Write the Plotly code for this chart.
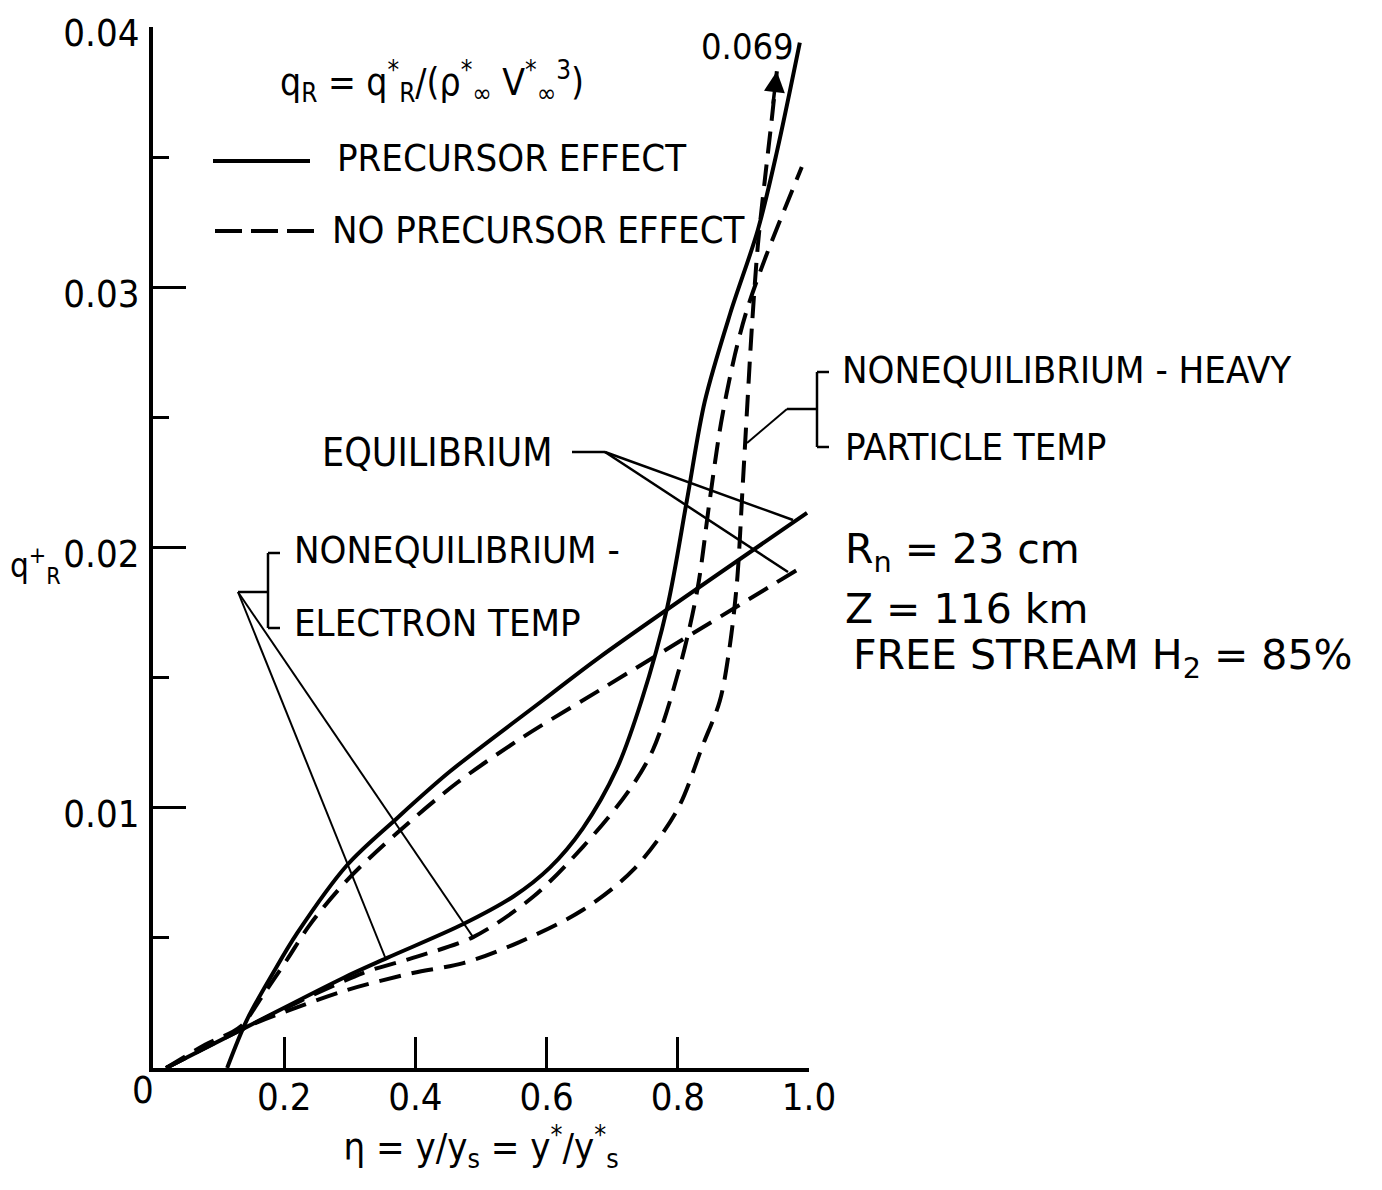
import plotly.graph_objects as go

# ---------------- data (eta, q_R+) ----------------
# Equilibrium, precursor effect (solid)
eq_pre_x = [0.113, 0.143, 0.183, 0.220, 0.296, 0.372, 0.453, 0.595, 0.681, 0.997]
eq_pre_q = [0.0, 0.00184, 0.00365, 0.00519, 0.0078, 0.00960, 0.01140, 0.01414, 0.01579, 0.02133]

# Equilibrium, no precursor effect (dashed)
eq_nop_x = [0.02, 0.08, 0.133, 0.165, 0.204, 0.239, 0.296, 0.372, 0.463, 0.560, 0.681, 0.982]
eq_nop_q = [0.0, 0.0009, 0.00158, 0.0027, 0.00415, 0.00550, 0.00722, 0.00903, 0.01095, 0.01265, 0.01452, 0.01914]

# Nonequilibrium - electron temp, precursor effect (solid)
ne_pre_x = [0.02, 0.143, 0.290, 0.357, 0.473, 0.550, 0.605, 0.655, 0.707, 0.745, 0.784, 0.814,
            0.841, 0.880, 0.922, 0.951, 0.986]
ne_pre_q = [0.0, 0.00158, 0.00346, 0.00423, 0.00553, 0.00660, 0.00770, 0.00920, 0.01150, 0.01414,
            0.01771, 0.02183, 0.02560, 0.02900, 0.03220, 0.03520, 0.03940]

# Nonequilibrium - electron temp, no precursor effect (dashed)
ne_nop_x = [0.02, 0.143, 0.320, 0.396, 0.488, 0.579, 0.655, 0.723, 0.762, 0.803, 0.830, 0.848,
            0.866, 0.887, 0.905, 0.933, 0.989]
ne_nop_q = [0.0, 0.00158, 0.00365, 0.00423, 0.00503, 0.00657, 0.00849, 0.01057, 0.01222, 0.01541,
            0.01840, 0.02170, 0.02480, 0.02740, 0.02910, 0.03110, 0.03462]

# Nonequilibrium - heavy particle temp, no precursor effect (dashed), goes on to 0.069
nh_nop_x = [0.02, 0.143, 0.209, 0.296, 0.396, 0.473, 0.555, 0.655, 0.732, 0.799, 0.838, 0.864,
            0.878, 0.890, 0.899, 0.906, 0.913, 0.922, 0.933, 0.943, 0.951]
nh_nop_q = [0.0, 0.00158, 0.00223, 0.0030, 0.00365, 0.00403, 0.0048, 0.00607, 0.00761, 0.00991,
            0.0124, 0.0141, 0.0160, 0.0186, 0.0224, 0.0255, 0.0285, 0.0316, 0.0342, 0.0364, 0.0383]

x_tickvals = [0.2, 0.4, 0.6, 0.8, 1.0]
x_ticktext = ["0.2", "0.4", "0.6", "0.8", "1.0"]
y_tickvals = [0.01, 0.02, 0.03, 0.04]
y_ticktext = ["0.01", "0.02", "0.03", "0.04"]

# ---------------- layout geometry ----------------
W, H = 1382, 1190
OFF = 8                      # page body margin
SL, ST = 153, 27             # plot area left / top on screen
PW, PH = 656, 1041           # plot area size
L, T = SL - OFF, ST - OFF
R = W - L - PW
B = H - T - PH


def px(x):
    return (x - SL) / PW


def py(y):
    return (ST + PH - y) / PH


COND = "Liberation Sans Narrow, DejaVu Sans Condensed, Arial Narrow, sans-serif"
WIDE = "DejaVu Sans, Verdana, sans-serif"
INK = "black"
DASH = "22px,11px"

fig = go.Figure()

series = [
    (eq_pre_x, eq_pre_q, "solid"),
    (eq_nop_x, eq_nop_q, DASH),
    (ne_pre_x, ne_pre_q, "solid"),
    (ne_nop_x, ne_nop_q, DASH),
    (nh_nop_x, nh_nop_q, DASH),
]
for xs, qs, dash in series:
    fig.add_trace(go.Scatter(
        x=xs, y=qs, mode="lines",
        line=dict(color=INK, width=4, dash=dash, shape="spline", smoothing=0.9),
        showlegend=False, hoverinfo="skip", cliponaxis=False,
    ))

shapes = []


def seg(x0, y0, x1, y1, w=2.5, dash="solid"):
    shapes.append(dict(type="line", xref="paper", yref="paper",
                       x0=px(x0), y0=py(y0), x1=px(x1), y1=py(y1),
                       line=dict(color=INK, width=w, dash=dash)))


# legend samples
seg(213, 161, 310, 161, w=4)
seg(215, 231, 315, 231, w=4, dash="27px,9px")

# EQUILIBRIUM leader
seg(572, 452, 605, 452)
seg(605, 452, 793, 520)
seg(605, 452, 788, 572)

# NONEQUILIBRIUM - ELECTRON TEMP bracket and leaders
seg(268, 553, 268, 628)
seg(268, 553, 280, 553)
seg(268, 628, 280, 628)
seg(238, 592, 268, 592)
seg(238, 592, 385, 957, w=2)
seg(238, 592, 473, 937, w=2)

# NONEQUILIBRIUM - HEAVY PARTICLE TEMP bracket and leader
seg(817, 372, 817, 447)
seg(817, 372, 829, 372)
seg(817, 447, 829, 447)
seg(787, 409, 817, 409)
seg(787, 409, 747, 443, w=2)

annotations = []


def txt(text, x, y, size=36, family=COND, xanchor="left", yanchor="middle"):
    annotations.append(dict(text=text, xref="paper", yref="paper", x=px(x), y=py(y),
                            xanchor=xanchor, yanchor=yanchor, showarrow=False,
                            font=dict(family=family, size=size, color=INK)))


txt("q<sub>R</sub> = q<sup>*</sup><sub>R</sub>/(ρ<sup>*</sup><sub>∞</sub> V<sup>*</sup><sub>∞</sub><sup>3</sup>)", 278, 82, size=37)
txt("PRECURSOR EFFECT", 335, 158, size=38)
txt("NO PRECURSOR EFFECT", 330, 230, size=38)
txt("EQUILIBRIUM", 320, 452, size=39)
txt("NONEQUILIBRIUM -", 292, 550, size=38)
txt("ELECTRON TEMP", 292, 623, size=38)
txt("NONEQUILIBRIUM - HEAVY", 840, 370, size=38)
txt("PARTICLE TEMP", 843, 447, size=38)
txt("R<sub>n</sub> = 23 cm", 843, 552, size=41, family=WIDE)
txt("Z = 116 km", 843, 609, size=41, family=WIDE)
txt("FREE STREAM H<sub>2</sub> = 85%", 851, 658, size=41, family=WIDE)
txt("0.069", 747, 46, size=36, xanchor="center")
txt("0", 143, 1090, size=38, xanchor="center")
txt("q<sup>+</sup><sub>R</sub>", 8, 565, size=33, xanchor="left")

# arrow at the end of the heavy-particle curve (value continues to 0.069)
annotations.append(dict(
    x=nh_nop_x[-1], y=nh_nop_q[-1], xref="x", yref="y",
    ax=-4, ay=34, axref="pixel", ayref="pixel",
    showarrow=True, arrowhead=2, arrowsize=1.2, arrowwidth=3.5, arrowcolor=INK, text="",
))

fig.update_layout(
    width=W, height=H,
    margin=dict(l=L, r=R, t=T, b=B, autoexpand=False),
    paper_bgcolor="white", plot_bgcolor="white",
    font=dict(family=COND, size=38, color=INK),
    shapes=shapes, annotations=annotations,
    showlegend=False,
)

fig.update_xaxes(
    range=[0, 1.0], showgrid=False, zeroline=False,
    showline=True, linecolor=INK, linewidth=4,
    ticks="inside", ticklen=31, tickwidth=3, tickcolor=INK,
    tickvals=x_tickvals, ticktext=x_ticktext, ticklabelstandoff=-8,
    ticklabeloverflow="allow",
    tickfont=dict(family=COND, size=38, color=INK),
    title=dict(text="η = y/y<sub>s</sub> = y<sup>*</sup>/y<sup>*</sup><sub>s</sub>",
               font=dict(family=COND, size=38, color=INK), standoff=14),
)
fig.update_yaxes(
    range=[0, 0.04], showgrid=False, zeroline=False,
    showline=True, linecolor=INK, linewidth=4,
    ticks="inside", ticklen=33, tickwidth=3, tickcolor=INK,
    tickvals=y_tickvals, ticktext=y_ticktext,
    ticklabeloverflow="allow", ticklabelshift=6, ticklabelstandoff=2,
    tickfont=dict(family=COND, size=38, color=INK),
    minor=dict(tickvals=[0.005, 0.015, 0.025, 0.035], ticks="inside", ticklen=16,
               tickwidth=3, tickcolor=INK, showgrid=False),
)

fig.write_html("out.html")
